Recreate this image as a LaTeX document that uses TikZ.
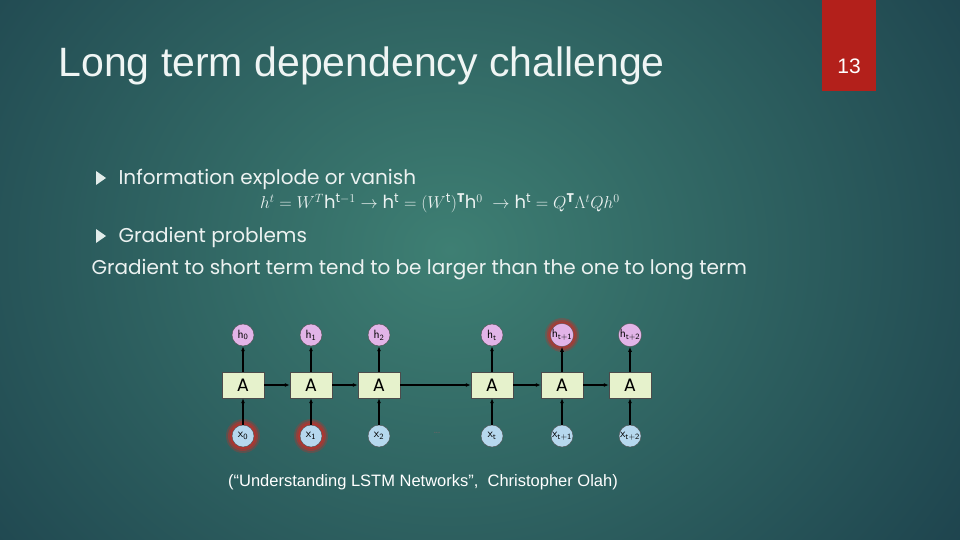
\documentclass[tikz,border=0pt]{standalone}
\usepackage{fontspec}
\usepackage{amsmath}
\setmainfont{Poppins}
\newfontfamily\titlefont{Liberation Sans}
\usetikzlibrary{arrows.meta}
\definecolor{bgin}{HTML}{3E7F73}
\definecolor{bgout}{HTML}{173746}
\definecolor{slidered}{HTML}{B3201B}
\definecolor{abox}{HTML}{E6F2CC}
\definecolor{hcol}{HTML}{E2B4E8}
\definecolor{xcol}{HTML}{B6D8EE}
\definecolor{glow}{HTML}{C0302A}
\tikzset{
  cell/.style={draw=black!70,fill=abox,minimum width=42pt,minimum height=26pt,inner sep=0pt,font=\fontsize{18}{18}\selectfont},
  hnode/.style={circle,draw=black!70,fill=hcol,minimum size=22pt,inner sep=0pt,font=\fontsize{12}{12}\selectfont},
  xnode/.style={circle,draw=black!70,fill=xcol,minimum size=22pt,inner sep=0pt,font=\fontsize{12}{12}\selectfont},
  arr/.style={-{Latex[length=5pt,width=4pt]},line width=1.1pt,black},
  bullet/.style={fill=white!85!bgin},
  body/.style={text=white!90!bgin,anchor=west,font=\fontsize{20}{20}\selectfont}
}
\begin{document}
\begin{tikzpicture}[x=1pt,y=-1pt]
\useasboundingbox (0,0) rectangle (960,540);
\shade[inner color=bgin,outer color=bgout] (-300,-400) rectangle (1200,900);
\fill[slidered] (822,0) rectangle (876,91);
\node[text=white,font=\titlefont\fontsize{21}{21}\selectfont] (num) at (849,66) {13};
\node[anchor=west,text=white!92!bgin,font=\titlefont\fontsize{41}{41}\selectfont] (title) at (55,66) {Long term dependency challenge};
\fill[bullet] (96,171) -- (106,178) -- (96,185) -- cycle;
\node[body] (b1) at (115,179) {Information explode or vanish};
\node[text=white!90!bgin,font=\fontsize{18}{18}\selectfont] (eq) at (440,203)
 {$h^t=W^T\mathrm{h}^{\mathrm{t}-1}\rightarrow \mathrm{h}^{\mathrm{t}}=(W^{\mathrm{t}})^{\mathbf{T}}\mathrm{h}^0\ \rightarrow \mathrm{h}^{\mathrm{t}}=Q^{\mathbf{T}}\Lambda^tQh^0$};
\fill[bullet] (96,229) -- (106,236) -- (96,243) -- cycle;
\node[body] (b2) at (115,237) {Gradient problems};
\node[body] (b3) at (88,270) {Gradient to short term tend to be larger than the one to long term};
\foreach \cx/\cy in {243/436,311/436,562/335}{
  \fill[glow,opacity=0.3] (\cx,\cy) circle (17pt);
  \fill[glow,opacity=0.5] (\cx,\cy) circle (15pt);
  \fill[glow,opacity=0.7] (\cx,\cy) circle (13pt);}
\foreach \i/\x/\hl/\xl in {0/243/h_0/x_0,1/311/h_1/x_1,2/379/h_2/x_2,3/492/h_t/x_t,4/562/h_{t+1}/x_{t+1},5/630/h_{t+2}/x_{t+2}}{
  \node[cell] (a\i) at (\x,385) {A};
  \node[hnode] (h\i) at (\x,335) {$\mathsf{\hl}$};
  \node[xnode] (x\i) at (\x,436) {$\mathsf{\xl}$};
  \draw[arr] (x\i) -- (a\i);
  \draw[arr] (a\i) -- (h\i);
}
\draw[arr] (a0) -- (a1); \draw[arr] (a1) -- (a2); \draw[arr] (a2) -- (a3);
\draw[arr] (a3) -- (a4); \draw[arr] (a4) -- (a5);
\node[text=black!60,font=\fontsize{10}{10}\selectfont] (dots) at (437,433) {...};
\node[text=white,font=\titlefont\fontsize{16.5}{16.5}\selectfont] (cite) at (423,482) {(“Understanding LSTM Networks”,\ \ Christopher Olah)};
\end{tikzpicture}
\end{document}
